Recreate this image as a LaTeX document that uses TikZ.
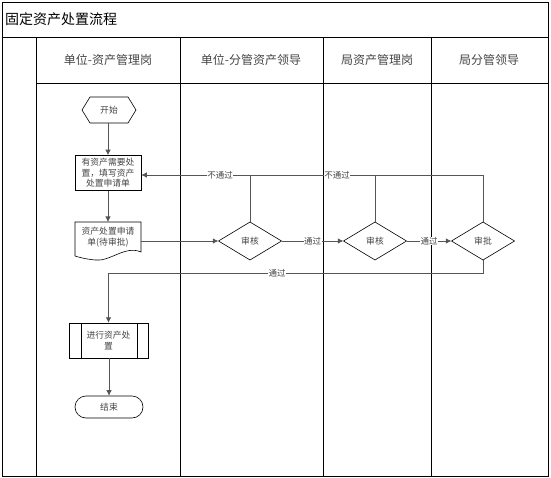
\documentclass[tikz,border=0pt]{standalone}
\usepackage{fontspec}
\setmainfont{Noto Sans CJK SC}
\usetikzlibrary{arrows.meta}
\definecolor{conn}{HTML}{555555}
\definecolor{txt}{HTML}{444444}
\tikzset{
  lane/.style={draw=black, line width=0.9pt},
  conline/.style={draw=conn, line width=0.7pt},
  arr/.style={conline, -{Latex[length=5.5pt,width=5.5pt]}},
  ntext/.style={font=\fontsize{8.8}{10.6}\selectfont, text=txt, align=center, inner sep=0pt},
  lbl/.style={font=\fontsize{8.5}{9}\selectfont, text=txt, fill=white, inner sep=0.5pt},
  hdr/.style={font=\fontsize{12}{14}\selectfont, text=txt},
  shp/.style={draw=black, line width=0.6pt},
}
\begin{document}
\begin{tikzpicture}[x=1pt,y=-1pt]
\useasboundingbox (0,0) rectangle (551,478);
% frame
\draw[lane] (2,2) rectangle (548,476);
\draw[lane] (2,37) -- (548,37);
\draw[lane] (36,83) -- (548,83);
\foreach \x in {36,180,323,431} \draw[lane] (\x,37) -- (\x,476);
\node[anchor=west, font=\fontsize{14}{16}\selectfont, inner sep=0pt] (title) at (5,19) {固定资产处置流程};
\node[hdr] (h1) at (108,60) {单位-资产管理岗};
\node[hdr] (h2) at (251,60) {单位-分管资产领导};
\node[hdr] (h3) at (377,60) {局资产管理岗};
\node[hdr] (h4) at (489,60) {局分管领导};

% start hexagon
\draw[shp] (82,110) -- (90,97) -- (128,97) -- (136,110) -- (128,123) -- (90,123) -- cycle;
\node[ntext, minimum width=54pt, minimum height=26pt] (start) at (109,110) {开始};
% box1
\node[shp, ntext, minimum width=66pt, minimum height=35pt, inner sep=0.5pt] (box1) at (108,173) {有资产需要处\\置，填写资产\\处置申请单};
% document
\draw[shp] (75,222) -- (141,222) -- (141,252) .. controls (125,245) and (110,262) .. (95,260) .. controls (85,259) and (78,257) .. (75,256) -- cycle;
\node[ntext, minimum width=66pt, minimum height=34pt] (doc) at (108,237) {资产处置申请\\单(待审批)};
\coordinate (docR) at (141,241);
% diamonds
\foreach \n/\cx/\t in {d1/250/审核, d2/375/审核, d3/483/审批}{
  \draw[shp] (\cx-31.5,241) -- (\cx,222) -- (\cx+31.5,241) -- (\cx,260) -- cycle;
  \node[ntext, minimum width=63pt, minimum height=38pt] (\n) at (\cx,241) {\t};
}
% process box
\draw[shp] (69,323) rectangle (148,358);
\draw[shp] (81,323) -- (81,358);
\draw[shp] (137,323) -- (137,358);
\node[ntext, minimum width=79pt, minimum height=35pt] (proc) at (108.5,340.5) {进行资产处\\置};
% end terminal
\node[shp, ntext, rounded corners=11pt, minimum width=68pt, minimum height=22pt] (end) at (109,407) {结束};

% connectors
\draw[arr] (start.south -| box1.north) -- (box1.north);
\draw[arr] (box1.south) -- (doc.north |- 0,222);
\draw[arr] (docR) -- (d1.west);
\draw[arr] (d1.east) -- node[lbl] {通过} (d2.west);
\draw[arr] (d2.east) -- node[lbl] {通过} (d3.west);
\draw[conline] (d1.north) -- (250,175);
\draw[conline] (d2.north) -- (375,175);
\draw[arr] (d3.north) -- (483,175) -- (box1.east |- 0,175);
\node[lbl] (nt1) at (220,175) {不通过};
\node[lbl] (nt2) at (337,175) {不通过};
\draw[arr] (d3.south) -- (483,273) -- (proc.north |- 0,273) -- (proc.north);
\node[lbl] (pass3) at (277,273) {通过};
\draw[arr] (proc.south -| end.north) -- (end.north);
\end{tikzpicture}
\end{document}
